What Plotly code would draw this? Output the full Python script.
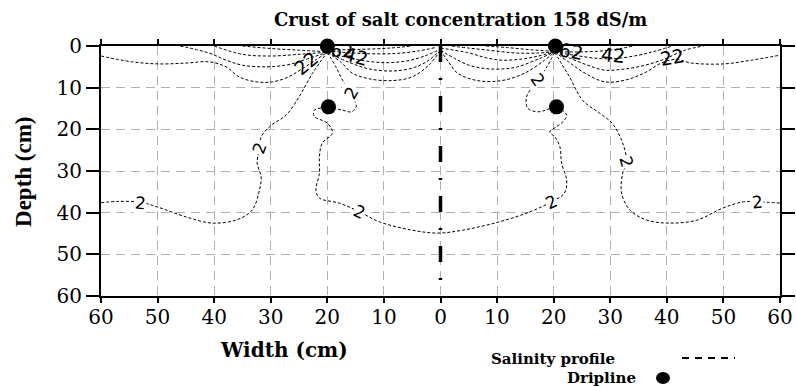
import plotly.graph_objects as go

# ---------------- data (width in cm, depth in cm) ----------------
x_ticks = [-60, -50, -40, -30, -20, -10, 0, 10, 20, 30, 40, 50, 60]
x_tick_text = ["60", "50", "40", "30", "20", "10", "0", "10", "20", "30", "40", "50", "60"]
y_ticks = [0, 10, 20, 30, 40, 50, 60]

# near-surface contours, left dripper, outer side
cA_x = [-60, -54.5, -49.7, -45, -40.9, -37.9, -35.6, -32.6, -29.7, -27, -24.5, -22, -20]
cA_d = [2.4, 3.8, 4.3, 4.1, 3.8, 5.0, 7.4, 8.6, 8.6, 7.5, 5.5, 3.3, 1.5]
cB_x = [-46, -40.9, -37.9, -35, -30.8, -27, -24, -20]
cB_d = [0.0, 1.7, 3.4, 4.6, 5.0, 4.5, 3.3, 1.5]
cC_x = [-40, -35, -30, -25, -20]
cC_d = [0.0, 2.0, 2.4, 2.0, 1.5]
cD_x = [-35, -30, -25, -20]
cD_d = [0.0, 0.6, 1.0, 1.4]
# left dripper, inner side (towards 0)
cE_x = [-20, -17.5, -15.6, -12.5, -8.5, -5, -2, 0]
cE_d = [1.5, 4.0, 6.5, 7.9, 8.3, 7.4, 4.5, 1.0]
cF_x = [-20, -16, -12.6, -8.5, -5, -2.5, 0]
cF_d = [1.5, 4.0, 5.5, 6.0, 5.3, 3.8, 1.0]
cG_x = [-20, -15, -10, -6, -3, 0]
cG_d = [1.5, 3.2, 4.0, 3.6, 2.5, 0.8]
cH_x = [-20, -14, -8, -4, -1]
cH_d = [1.2, 1.8, 1.8, 1.2, 0.4]
cI_x = [-20, -14, -9, -5]
cI_d = [1.0, 0.8, 0.5, 0.0]
# right dripper, inner side
cE2_x = [0, 1.5, 3, 6.5, 10.8, 14.9, 18.4, 20.2]
cE2_d = [1.0, 4.0, 6.5, 8.3, 8.3, 6.5, 3.4, 1.4]
cF2_x = [0, 2.5, 5, 7.8, 11, 13.6, 17.5, 20.2]
cF2_d = [1.0, 3.0, 4.6, 5.4, 5.5, 5.0, 3.0, 1.4]
cG2_x = [0, 4.8, 8, 10.8, 14, 17, 20.2]
cG2_d = [0.5, 1.6, 2.8, 3.4, 3.2, 2.5, 1.4]
cH2_x = [2, 5, 7.8, 11, 13.6, 17, 20.2]
cH2_d = [0.0, 0.5, 0.9, 1.4, 1.7, 1.7, 1.4]
cI2_x = [8, 12, 16, 20.2]
cI2_d = [0.0, 0.4, 0.9, 1.3]
# right dripper, outer side
cR1_x = [20.2, 22.8, 25.5, 29, 32.6, 36, 39, 41.5, 44.4, 50, 55, 60]
cR1_d = [1.4, 4.0, 6.5, 8.6, 8.2, 6.5, 4.1, 3.2, 4.1, 4.3, 3.4, 2.2]
cR2_x = [20.2, 23, 26, 29, 32, 34.9, 39.1, 43.2, 46.5]
cR2_d = [1.4, 3.0, 4.6, 5.8, 5.6, 5.0, 3.4, 1.0, 0.0]
cR3_x = [20.2, 24, 28, 31, 35, 38, 41]
cR3_d = [1.4, 2.3, 3.0, 3.0, 2.2, 1.2, 0.0]
cR4_x = [20.2, 25, 30, 34]
cR4_d = [1.4, 1.4, 1.0, 0.0]

# "2" dS/m contours
c2L_x = [-60, -57, -53, -50.1, -45, -40.4, -36, -33.3, -32, -31.7, -32.4, -32, -31.7,
         -29.9, -27.3, -25, -22.6, -20]
c2L_d = [37.6, 37.3, 37.5, 38.6, 41.0, 42.5, 41.7, 39.4, 34.6, 31.4, 28.1, 24.5, 21.8,
         19.0, 16.6, 12.2, 6.5, 1.5]
c2M_x = [-20, -18.5, -17.3, -15.8, -14.9, -15.8, -17.3, -20, -22.3, -22.3, -20, -19.1,
         -20.9, -21.4, -21.4, -22, -21.4, -17.9, -14.3, -10.8, -5, -0.5, 3.9, 10.4, 15.8,
         19.6, 21.9, 22.3, 21.4, 21.1, 20.2, 19.3, 20.5, 21.6, 22.3, 20.5, 17.2, 15.4,
         15.2, 16.1, 17.2, 18.8, 20.2]
c2M_d = [1.5, 5.0, 8.2, 11.3, 14.6, 15.8, 15.4, 14.8, 15.4, 16.9, 18.5, 20.9,
         23.3, 26.6, 30.5, 34.6, 36.5, 37.7, 39.8, 42.2, 44.2, 44.9, 44.2, 42.2, 39.8,
         37.4, 35.3, 32.2, 28.1, 24.2, 21.8, 20.6, 19.4, 18.2, 16.6, 14.8, 15.8, 14.9,
         12.2, 10.1, 8.2, 5.0, 1.5]
c2R_x = [20.2, 21.5, 22.8, 25.1, 28.1, 30.3, 32, 32.9, 32.2, 32, 33.5, 36.5, 40.5,
         45.3, 49.9, 53.5, 56.1, 60]
c2R_d = [1.5, 4.5, 7.4, 13.0, 16.1, 18.5, 22.6, 27.8, 30.5, 35.3, 39.4, 41.8, 42.5,
         41.8, 38.9, 37.4, 37.4, 37.7]

# drippers
drip_x = [-20, 20.3, -19.8, 20.5]
drip_d = [0, 0, 14.6, 14.6]

# contour labels: text, x, depth, angle, white background
lab_text = ["2", "2", "2", "2", "2", "2", "2", "2", "22", "42", "62", "42", "22"]
lab_x = [-53, -32, -15.8, -14.3, 19.6, 17.2, 32.9, 56.1, -23.7, -15.0, 23.0, 30.4, 41.0]
lab_d = [37.6, 24.5, 11.3, 39.8, 37.4, 8.2, 27.8, 37.4, 4.1, 2.4, 1.3, 2.2, 2.6]
lab_ang = [5, -70, -60, 25, -25, 55, 75, -5, -40, 15, 10, 5, -10]
lab_bg = [True, True, True, True, True, True, True, True, False, False, False, False, False]
lab_size = [17, 17, 17, 17, 17, 17, 17, 17, 19, 19, 19, 19, 19]

# ---------------- figure ----------------
fig = go.Figure()

contours = [(cA_x, cA_d), (cB_x, cB_d), (cC_x, cC_d), (cD_x, cD_d),
            (cE_x, cE_d), (cF_x, cF_d), (cG_x, cG_d), (cH_x, cH_d), (cI_x, cI_d),
            (cE2_x, cE2_d), (cF2_x, cF2_d), (cG2_x, cG2_d), (cH2_x, cH2_d), (cI2_x, cI2_d),
            (cR1_x, cR1_d), (cR2_x, cR2_d), (cR3_x, cR3_d), (cR4_x, cR4_d),
            (c2L_x, c2L_d), (c2M_x, c2M_d), (c2R_x, c2R_d)]
for cx, cd in contours:
    fig.add_trace(go.Scatter(x=cx, y=cd, mode="lines", line_shape="spline",
                             line=dict(color="black", width=1, dash="3px,2px"),
                             hoverinfo="skip", showlegend=False))

# hidden "62" label under the left dripper
fig.add_trace(go.Scatter(x=[-17.4], y=[1.6], mode="text", text=["62"],
                         textfont=dict(family="DejaVu Sans", size=18, color="black"),
                         showlegend=False, cliponaxis=False))

# centre line
fig.add_trace(go.Scatter(x=[0, 0], y=[0, 61], mode="lines",
                         line=dict(color="black", width=3.5, dash="16px,16px,2px,16px"),
                         showlegend=False, cliponaxis=False))

# drippers
fig.add_trace(go.Scatter(x=drip_x, y=drip_d, mode="markers",
                         marker=dict(color="black", size=15, line=dict(width=0)),
                         showlegend=False, cliponaxis=False))

for t, lx, ld, ang, bg, sz in zip(lab_text, lab_x, lab_d, lab_ang, lab_bg, lab_size):
    fig.add_annotation(x=lx, y=ld, text=t, showarrow=False, textangle=ang,
                       xanchor="center", yanchor="middle",
                       font=dict(family="DejaVu Sans", size=sz, color="black"),
                       bgcolor="white" if bg else "rgba(0,0,0,0)", borderpad=0)

serif = "DejaVu Serif"
# title and arrows
fig.add_annotation(xref="paper", yref="paper", x=0.529, y=1.104, xanchor="center", yanchor="middle",
                   text="<b>Crust of salt concentration 158 dS/m</b>",
                   showarrow=False, font=dict(family=serif, size=18, color="black"))
fig.add_annotation(x=-16.3, y=-2.4, text="", showarrow=True, ax=9, ay=-6, arrowhead=2,
                   arrowsize=0.8, arrowwidth=1.2, arrowcolor="black")
fig.add_annotation(x=18.5, y=-2.6, text="", showarrow=True, ax=-9, ay=-6, arrowhead=2,
                   arrowsize=0.8, arrowwidth=1.2, arrowcolor="black")

# axis titles
fig.add_annotation(xref="paper", yref="paper", x=0.2695, y=-0.216, xanchor="center", yanchor="middle",
                   text="<b>Width (cm)</b>",
                   showarrow=False, font=dict(family=serif, size=20, color="black"))
fig.add_annotation(xref="paper", yref="paper", x=-0.1149, y=0.5, xanchor="center", yanchor="middle",
                   text="<b>Depth (cm)</b>", textangle=-90, showarrow=False,
                   font=dict(family="Liberation Serif", size=23, color="black"))

# legend (text + samples)
fig.add_annotation(xref="paper", yref="paper", x=0.6657, y=-0.252, xanchor="center", yanchor="middle",
                   text="<b>Salinity profile</b>",
                   showarrow=False, font=dict(family=serif, size=15, color="black"))
fig.add_annotation(xref="paper", yref="paper", x=0.7365, y=-0.328, xanchor="center", yanchor="middle",
                   text="<b>Dripline</b>",
                   showarrow=False, font=dict(family=serif, size=15, color="black"))
fig.add_shape(type="line", xref="paper", yref="paper", x0=(682 - 101) / 679, x1=(735 - 101) / 679,
              y0=-0.248, y1=-0.248, line=dict(color="black", width=2, dash="7px,6px"))
fig.add_shape(type="circle", xref="paper", yref="paper", xsizemode="pixel", ysizemode="pixel",
              xanchor=(663 - 101) / 679, yanchor=(296 - 378) / 250, x0=-7, x1=7, y0=-6, y1=6,
              fillcolor="black", line=dict(width=0))

axis_common = dict(showline=True, linecolor="black", linewidth=2, mirror="allticks",
                   ticks="outside", tickcolor="black", tickwidth=2, automargin=False,
                   gridcolor="#b0b0b0", griddash="9px,6px", gridwidth=1.3,
                   zeroline=False,
                   tickfont=dict(family=serif, size=20, color="black"))

fig.update_xaxes(range=[-60, 60], tickvals=x_ticks, ticktext=x_tick_text, ticklen=5,
                 ticklabelstandoff=-3, **axis_common)
fig.update_yaxes(range=[60, 0], tickvals=y_ticks, ticklen=13, **axis_common)

fig.update_layout(width=796, height=387, margin=dict(l=101, r=16, t=46, b=91),
                  plot_bgcolor="white", paper_bgcolor="white", showlegend=False)

fig.write_html("out.html")
